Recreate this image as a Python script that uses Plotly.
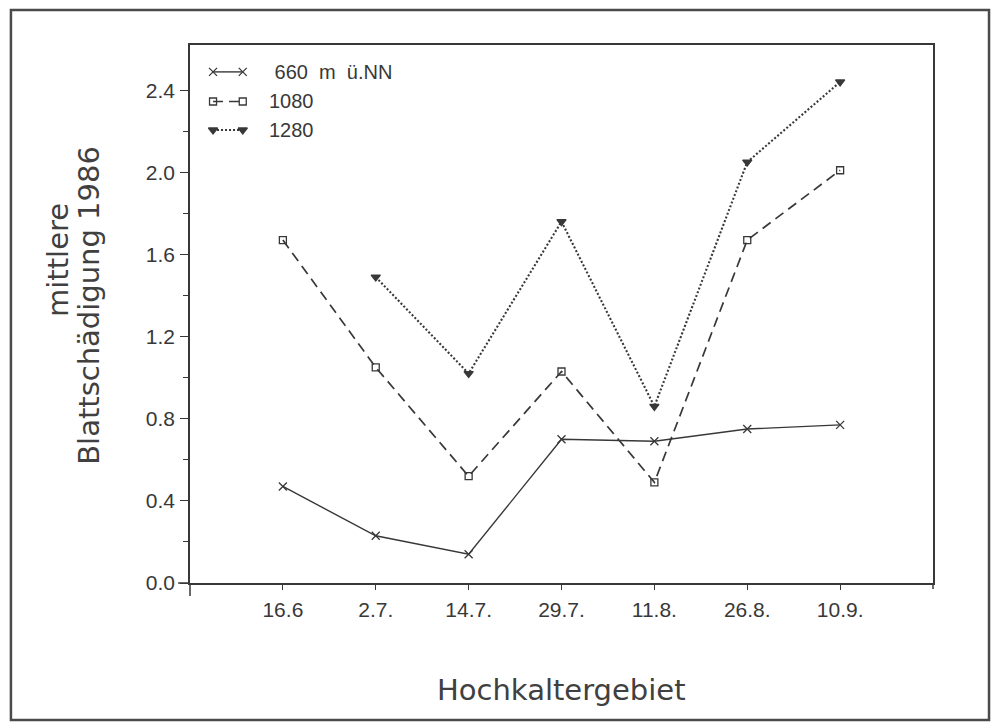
import plotly.graph_objects as go

# Sampling dates (Hochkalter area, 1986)
dates = ["16.6", "2.7.", "14.7.", "29.7.", "11.8.", "26.8.", "10.9."]

# Mean leaf damage per altitude
damage_660 = [0.47, 0.23, 0.14, 0.70, 0.69, 0.75, 0.77]
damage_1080 = [1.67, 1.05, 0.52, 1.03, 0.49, 1.67, 2.01]
damage_1280 = [None, 1.49, 1.02, 1.76, 0.86, 2.05, 2.44]

series_names = ["\u00a0660\u00a0\u00a0m\u00a0\u00a0ü.NN", "1080", "1280"]

y_major = [0.0, 0.4, 0.8, 1.2, 1.6, 2.0, 2.4]
y_minor = [0.2, 0.6, 1.0, 1.4, 1.8, 2.2]

INK = "#383838"
TICK_FONT = dict(family="Liberation Sans, Arial, sans-serif", size=21, color=INK)
LEGEND_FONT = dict(family="Liberation Sans, Arial, sans-serif", size=20, color=INK)
TITLE_FONT = dict(family="DejaVu Sans, sans-serif", size=29, color="#404040")
YTITLE_FONT = dict(family="DejaVu Sans, sans-serif", size=29, color="#404040")

x_pos = list(range(len(dates)))

styles = [
    dict(dash="solid", width=1.4, symbol="x-thin-open", size=8),
    dict(dash="10px,6px", width=1.7, symbol="square-open", size=7),
    dict(dash="2px,2px", width=2.1, symbol="triangle-down", size=8),
]

fig = go.Figure()

for values, st in zip([damage_660, damage_1080, damage_1280], styles):
    fig.add_trace(go.Scatter(
        x=x_pos, y=values, mode="lines+markers",
        line=dict(color=INK, width=st["width"], dash=st["dash"]),
        marker=dict(symbol=st["symbol"], size=st["size"], color=INK,
                    line=dict(color=INK, width=1.3)),
        showlegend=False, hoverinfo="skip",
    ))

# Hand-drawn legend: a short line with a marker at each end, then the label
key_rows = [0.950, 0.895, 0.842]
key_x = [0.031, 0.071]
for name, st, ky in zip(series_names, styles, key_rows):
    fig.add_trace(go.Scatter(
        x=key_x, y=[ky, ky], xaxis="x2", yaxis="y2", mode="lines+markers",
        line=dict(color=INK, width=st["width"], dash=st["dash"]),
        marker=dict(symbol=st["symbol"], size=st["size"], color=INK,
                    line=dict(color=INK, width=1.3)),
        showlegend=False, hoverinfo="skip",
    ))
    fig.add_annotation(
        x=0.104, y=ky, xref="x2", yref="y2", text=name, showarrow=False,
        xanchor="left", yanchor="middle", font=LEGEND_FONT,
    )

axis_common = dict(
    showline=True, linecolor=INK, linewidth=1.5, mirror=True,
    showgrid=False, zeroline=False, ticks="outside", tickcolor=INK,
    tickwidth=1.3, tickfont=TICK_FONT,
)

fig.update_layout(
    width=992, height=722,
    margin=dict(l=190, r=59, t=45, b=139, pad=0),
    paper_bgcolor="white", plot_bgcolor="white",
    xaxis=dict(range=[-1, 7], tickvals=x_pos, ticktext=dates, ticklen=5,
               ticklabelstandoff=2, **axis_common),
    yaxis=dict(range=[0, 2.62], tickvals=y_major, tickformat=".1f", ticklen=8,
               ticklabelstandoff=1,
               minor=dict(tickvals=y_minor, ticks="outside", ticklen=5,
                          tickcolor=INK, tickwidth=1.2),
               **axis_common),
    xaxis2=dict(overlaying="x", range=[0, 1], visible=False),
    yaxis2=dict(overlaying="y", range=[0, 1], visible=False),
)

# Axis titles
fig.add_annotation(
    x=0.5, y=-0.198, xref="paper", yref="paper", text="Hochkaltergebiet",
    showarrow=False, xanchor="center", yanchor="middle", font=TITLE_FONT,
)
fig.add_annotation(
    x=-0.178, y=0.6, xref="paper", yref="paper",
    text="mittlere", textangle=-90,
    showarrow=False, xanchor="center", yanchor="middle", font=YTITLE_FONT,
)
fig.add_annotation(
    x=-0.136, y=0.517, xref="paper", yref="paper",
    text="Blattschädigung 1986", textangle=-90,
    showarrow=False, xanchor="center", yanchor="middle", font=YTITLE_FONT,
)

# Axis overhangs at the origin and the tick at the right end of the x axis
fig.add_shape(type="line", xref="paper", yref="paper",
              x0=-0.016, x1=0, y0=0, y1=0, line=dict(color=INK, width=1.5))
fig.add_shape(type="line", xref="paper", yref="paper",
              x0=0, x1=0, y0=-0.024, y1=0, line=dict(color=INK, width=1.5))
fig.add_shape(type="line", xref="paper", yref="paper",
              x0=1, x1=1, y0=-0.011, y1=0, line=dict(color=INK, width=1.5))

# Outer frame around the whole figure
fig.add_shape(type="rect", xref="paper", yref="paper",
              x0=-0.241, x1=1.0754, y0=-0.2546, y1=1.065,
              line=dict(color="#4a4a4a", width=2.5))

fig.write_html("out.html")
